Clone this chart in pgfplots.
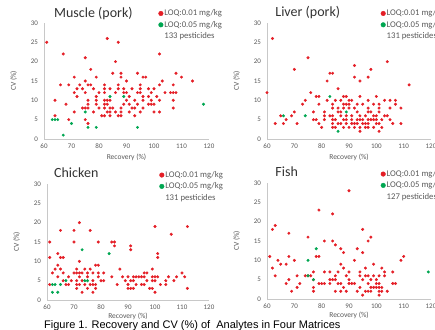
\documentclass[border=0pt]{standalone}
\usepackage{fontspec}
\setmainfont{Carlito}
\newfontfamily\capfont{Liberation Sans}
\usepackage{pgfplots}
\pgfplotsset{compat=1.18}
\definecolor{rd}{RGB}{228,30,38}
\definecolor{gr}{RGB}{0,166,81}
\definecolor{tk}{RGB}{89,89,89}
\definecolor{ax}{RGB}{200,200,200}
\pgfplotsset{
  panel/.style={
    scale only axis, width=165pt, height=116pt,
    xmin=60, xmax=120, ymin=0, ymax=30,
    xtick={60,70,...,120}, ytick={0,5,...,30},
    axis x line*=bottom, axis y line*=left,
    axis line style={ax, line width=0.6pt, -},
    major tick length=0pt,
    tick label style={font=\fontsize{7}{8}\selectfont, text=tk},
    /pgf/number format/assume math mode=true,
    xticklabel style={yshift=-1pt},
    yticklabel style={xshift=-2.5pt},
    xlabel={Recovery (\%)}, ylabel={CV (\%)},
    label style={font=\fontsize{7.5}{8.5}\selectfont, text=tk},
    ylabel shift=7pt, xlabel shift=-1.5pt,
    title style={font=\fontsize{14}{15}\selectfont, text=black!80, anchor=west, inner sep=0pt, yshift=0pt},
    legend style={draw=none, fill=none, font=\fontsize{8.7}{9.7}\selectfont, text=tk,
      anchor=north west, row sep=1.8pt, inner sep=0pt,
      legend cell align=left,
      nodes={inner sep=1pt}},
    legend image code/.code={\fill (0.1cm,0cm) circle (2.3pt);},
    clip=false,
  },
  rdp/.style={only marks, mark=*, mark size=1.3pt, color=rd, draw=rd, fill=rd},
  grp/.style={only marks, mark=*, mark size=1.3pt, color=gr, draw=gr, fill=gr},
}
\begin{document}
\begin{tikzpicture}
\useasboundingbox (0,0) rectangle (435pt,329pt);
% ---------------- Muscle (pork)
\begin{axis}[panel, at={(44pt,190pt)}, anchor=south west,
  title={Muscle (pork)}, title style={at={(axis description cs:0.06,1.034)}},
  legend style={at={(axis description cs:0.69,1.125)}}]
\addplot[rdp] coordinates {
(61,25)(83,26)(87,25)(67,22)(75,21)(102,22)(86,20)(77,18)
(85,17)(88,17)(94,17)(108,17)
(71,16)(79,16)(88,16)(96,16)(97,16)(110,16)
(75,15)(90,15)(103,15)(114,15)
(66,14)(69,14)(73,14)(76,14)(77,14)(82,14)(87,14)(95,14)(102,14)(107,14)
(72,13)(74,13)(78,13)(82,13)(84,13)(87,13)(89,13)(92,13)(95,13)(98,13)(100,13)
(71,12)(75,12)(80,12)(82,12)(86,12)(89,12)(90,12)(94,12)(95,12)(99,12)(104,12)(106,12)(107,12)(108,12)
(72,11)(79,11)(91,11)(96,11)(98,11)(101,11)
(64,10)(76,10)(79,10)(82,10)(83,10)(84,10)(90,10)(93,10)(96,10)(99,10)(102,10)(107,10)
(68,9)(76,9)(79,9)(82,9)(83,9)(89,9)(91,9)(94,9)(98,9)(99,9)(100,9)
(74,8)(75,8)(76,8)(80,8)(82,8)(84,8)(85,8)(88,8)(92,8)(93,8)(96,8)(107,8)
(71,7)(78,7)(83,7)(84,7)(86,7)(88,7)(91,7)(95,7)(100,7)(102,7)
(64,6)(81,6)(82,6)(84,6)(87,6)(88,6)(93,6)
(69,5)(75,5)(76,4)
};
\addlegendentry{LOQ:0.01 mg/kg}
\addplot[grp] coordinates {
(63,5)(64,5)(65,5)(67,1)(70,4)(75,7)(76,3)(79,3)(84,11)(89,11)(94,3)(118,9)
};
\addlegendentry{LOQ:0.05 mg/kg}
\addlegendimage{empty legend}\addlegendentry{133 pesticides}
\end{axis}
% ---------------- Liver (pork)
\begin{axis}[panel, at={(267pt,190pt)}, width=164pt, anchor=south west,
  title={Liver (pork)}, title style={at={(axis description cs:0.05,1.042)}},
  legend style={at={(axis description cs:0.69,1.125)}}]
\addplot[rdp] coordinates {
(62,26)(75,21)(70,18)(60,12)(104,20)(92,19)(98,18)(83,17)(84,17)(82,15)(94,15)(92,16)(97,16)(86,13)(76,12)(112,14)
(78,11)(79,11)(88,11)(89,11)(94,11)(100,11)
(74,10)(82,10)(87,10)(90,10)(91,10)(97,10)(103,10)(105,10)(107,10)(85,10)
(73,9)(79,9)(84,9)(89,9)(90,9)(95,9)(99,9)(107,9)(88,9)(93,9)(101,9)
(84,8)(88,8)(92,8)(97,8)(101,8)(105,8)(109,8)(86,8)(90,8)
(70,7)(77,7)(81,7)(86,7)(87,7)(93,7)(97,7)(101,7)(98,7)
(65,6)(69,6)(81,6)(84,6)(89,6)(91,6)(94,6)(96,6)(100,6)(103,6)(99,6)(87,6)(104,6)(83,6)
(67,5)(77,5)(78,5)(84,5)(85,5)(89,5)(94,5)(95,5)(98,5)(99,5)(100,5)(105,5)(93,5)(91,5)(102,5)(97,5)(81,5)(88,5)
(63,4)(66,4)(71,4)(79,4)(84,4)(87,4)(91,4)(92,4)(93,4)(97,4)(101,4)(106,4)(109,4)(96,4)(95,4)(89,4)(100,4)(86,4)
(80,3)(84,3)(88,3)(90,3)(94,3)(96,3)(97,3)(102,3)(92,3)(99,3)(85,3)
(94,2)(101,2)
};
\addlegendentry{LOQ:0.01 mg/kg}
\addplot[grp] coordinates {(66,6)(74,6)(83,11)(89,7)(86,2)};
\addlegendentry{LOQ:0.05 mg/kg}
\addlegendimage{empty legend}\addlegendentry{131 pesticides}
\end{axis}
% ---------------- Chicken
\begin{axis}[panel, at={(47pt,29pt)}, width=162pt, anchor=south west,
  xlabel shift=-3pt,
  title={Chicken}, title style={at={(axis description cs:0.043,1.043)}},
  legend style={at={(axis description cs:0.69,1.12)}}]
\addplot[rdp] coordinates {
(72,20)(61,15)(65,18)(70,18)(76,18)(70,15)(79,15)(84,15)(85,15)(85,14)
(100,19)(112,19)(106,17)(91,14)(91,13)(101,12)(101,11)
(61,11)(64,12)(66,11)(65,11)
(64,9)(65,8)(63,8)(62,7)(66,7)(72,10)(78,9)(79,9)
(71,8)(74,8)(76,8)(87,8)(99,8)
(70,7)(71,7)(72,7)(73,7)(75,7)(77,7)(79,7)(81,7)(96,7)(97,7)(110,7)
(64,6)(68,6)(72,6)(75,6)(79,6)(84,6)(88,6)(90,6)(92,6)(93,6)(94,6)(95,6)(96,6)(99,6)(100,6)(101,6)(105,6)(108,6)(111,6)
(66,5)(69,5)(71,5)(73,5)(77,5)(80,5)(81,5)(89,5)(91,5)(92,5)(97,5)(99,5)(100,5)(104,5)(107,5)
(61,4)(67,4)(68,4)(71,4)(72,4)(74,4)(76,4)(77,4)(78,4)(86,4)(90,4)(93,4)(95,4)(96,4)(102,4)(104,4)
(71,3)(75,3)(78,3)(90,3)(91,3)(92,3)(98,3)(99,3)(112,3)
(73,2)(77,2)(100,2)
};
\addlegendentry{LOQ:0.01 mg/kg}
\addplot[grp] coordinates {(62,4)(63,4)(65,4)(67,5)(74,5)(75,5)(73,13)(83,12)(62,2)(64,2)};
\addlegendentry{LOQ:0.05 mg/kg}
\addlegendimage{empty legend}\addlegendentry{131 pesticides}
\end{axis}
% ---------------- Fish
\begin{axis}[panel, at={(267pt,30pt)}, width=164pt, anchor=south west,
  xlabel shift=-3pt,
  title={Fish}, title style={at={(axis description cs:0.05,1.043)}},
  legend style={at={(axis description cs:0.69,1.12)}}]
\addplot[rdp] coordinates {
(90,28)(79,23)(84,22)(63,19)(62,18)(68,17)(95,18)
(75,16)(98,16)(81,15)(84,15)(97,15)(85,14)(87,13)(93,13)(88,12)(95,12)
(61,11)(68,11)(78,11)(79,11)(110,11)
(64,10)(70,10)(92,10)(109,10)
(65,9)(67,9)(87,9)(99,9)
(62,8)(88,8)(96,8)(102,8)
(77,7)(81,7)(83,7)(86,7)(90,7)(94,7)(103,7)(106,7)
(63,6)(71,6)(74,6)(75,6)(76,6)(85,6)(89,6)(94,6)(96,6)(97,6)(99,6)(101,6)(103,6)
(68,5)(77,5)(83,5)(84,5)(85,5)(90,5)(95,5)(98,5)(100,5)
(67,4)(72,4)(79,4)(80,4)(81,4)(83,4)(86,4)(87,4)(90,4)(91,4)(92,4)(97,4)(100,4)(101,4)(106,4)(107,4)
(71,3)(77,3)(88,3)(94,3)(98,3)(99,3)(100,3)(101,3)(102,3)
(69,2)(77,2)(85,2)(87,2)(89,2)(93,2)(96,2)(97,2)(98,2)(101,2)(102,2)(104,2)
(95,1)(101,1)
};
\addlegendentry{LOQ:0.01 mg/kg}
\addplot[grp] coordinates {(78,13)(75,10)(75,6)(77,5)(119,7)};
\addlegendentry{LOQ:0.05 mg/kg}
\addlegendimage{empty legend}\addlegendentry{127 pesticides}
\end{axis}
\node[anchor=base west, font=\capfont\fontsize{11}{12}\selectfont, inner sep=0pt] at (44pt,0.5pt)
  {Figure 1. Recovery and CV (\%) of\ \ Analytes in Four Matrices};
\end{tikzpicture}
\end{document}
